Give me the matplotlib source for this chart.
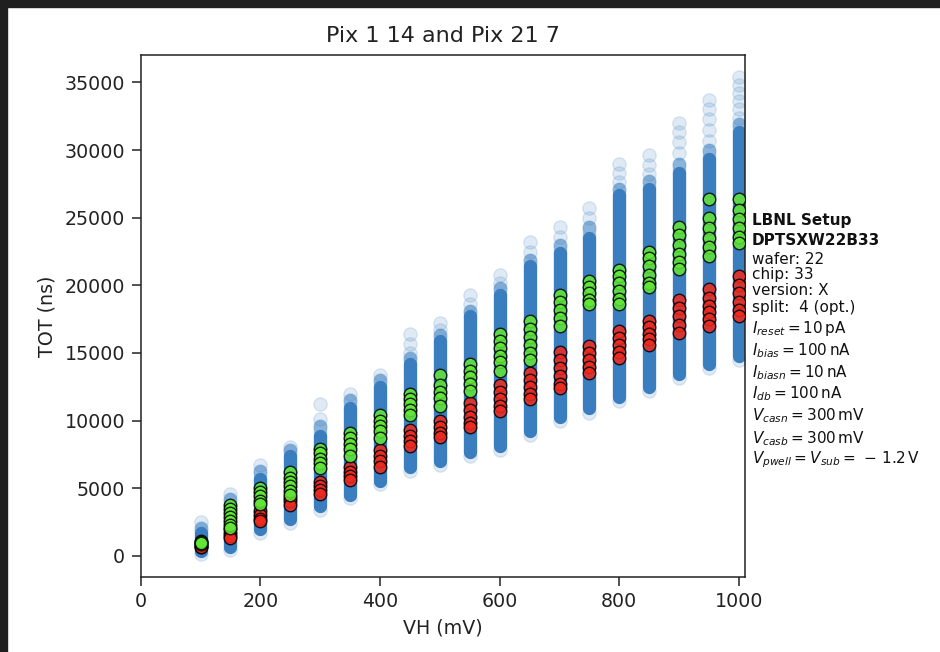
import matplotlib
matplotlib.use("Agg")
import matplotlib.pyplot as plt
from matplotlib.patches import Rectangle

# ---------------- data ----------------
vh = [100, 150, 200, 250, 300, 350, 400, 450, 500, 550,
      600, 650, 700, 750, 800, 850, 900, 950, 1000]

# dense (solid) part of the blue TOT distribution per VH
blue_core_lo = [400, 700, 2000, 2750, 3700, 4500, 5550, 6600, 7000, 7700,
                8150, 9250, 10300, 10900, 11750, 12500, 13450, 14200, 14800]
blue_core_hi = [1700, 3700, 5700, 7400, 8900, 10900, 12500, 14200, 15900, 17700,
                19300, 21400, 22400, 23500, 26700, 27100, 28300, 29300, 31300]
# sparse (faint) upper tail of the blue distribution per VH
blue_tail_hi = [
    [2500, 2100],
    [4600, 4200],
    [6700, 6300],
    [8050, 7800],
    [11200, 10100, 9600],
    [12000, 11500],
    [13400, 13000],
    [16400, 15700, 15000, 14600],
    [17200, 16700, 16300],
    [19300, 18600, 18100],
    [20800, 20200, 19800],
    [23200, 22500, 21900],
    [24300, 23600, 23000],
    [25700, 25000, 24300],
    [29000, 28300, 27600, 27100],
    [29600, 28900, 28200, 27700],
    [32000, 31300, 30600, 29800, 29000],
    [33700, 33000, 32300, 31500, 30700, 30000],
    [35400, 34800, 34200, 33600, 33000, 32400, 31900],
]
# faint lower tail
blue_tail_lo = [150, 450, 1700, 2450, 3400, 4250, 5300, 6300, 6750, 7400,
                7850, 8950, 10000, 10600, 11450, 12200, 13150, 13900, 14500]

green_vals = [
    [900, 1000, 1100, 1050, 950],
    [3800, 3500, 3200, 2900, 2600, 2300, 2050],
    [5050, 4700, 4400, 4100, 3850],
    [6200, 5800, 5500, 5200, 4800, 4500],
    [7900, 7600, 7200, 6900, 6500],
    [9100, 8700, 8300, 7900, 7400],
    [10400, 10000, 9600, 9200, 8700],
    [12000, 11600, 11200, 10800, 10400],
    [13400, 12600, 12100, 11700, 11100],
    [14200, 13700, 13200, 12700, 12200],
    [16400, 15900, 15400, 14800, 14300, 13700],
    [17400, 16800, 16200, 15600, 15000, 14500],
    [19300, 18800, 18200, 17600, 17000],
    [20300, 19900, 19400, 18900, 18600],
    [21100, 20700, 20200, 19600, 19000, 18600],
    [22500, 22000, 21400, 20800, 20200, 19900],
    [24300, 23700, 23000, 22300, 21700, 21200],
    [26400, 25000, 24200, 23500, 22800, 22200],
    [26400, 25600, 24900, 24200, 23600, 23100],
]
red_vals = [
    [650, 750, 800, 700],
    [2000, 1700, 1500, 1300],
    [3300, 3000, 2750, 2550],
    [4300, 4050, 3800],
    [5500, 5200, 4900, 4600],
    [6600, 6200, 5900, 5600],
    [7800, 7400, 7000, 6600],
    [9300, 8900, 8500, 8100],
    [10000, 9500, 9100, 8800],
    [11300, 10800, 10300, 9800, 9500],
    [12600, 12100, 11600, 11100, 10700],
    [13500, 13000, 12500, 12000, 11600],
    [15100, 14500, 13900, 13300, 12700, 12400],
    [15500, 15000, 14500, 14000, 13500],
    [16600, 16100, 15600, 15100, 14600],
    [17400, 16900, 16400, 16000, 15600],
    [18900, 18300, 17700, 17100, 16500],
    [19700, 19100, 18500, 18000, 17500, 17000],
    [20700, 20000, 19400, 18800, 18200, 17700],
]

title = "Pix 1 14 and Pix 21 7"
xlabel = "VH (mV)"
ylabel = "TOT (ns)"
info_bold = ["LBNL Setup", "DPTSXW22B33"]
info_lines = ["wafer: 22", "chip: 33", "version: X", "split:  4 (opt.)",
              r"$I_{reset} = 10\,\mathrm{pA}$",
              r"$I_{bias} = 100\,\mathrm{nA}$",
              r"$I_{biasn} = 10\,\mathrm{nA}$",
              r"$I_{db} = 100\,\mathrm{nA}$",
              r"$V_{casn} = 300\,\mathrm{mV}$",
              r"$V_{casb} = 300\,\mathrm{mV}$",
              r"$V_{pwell} = V_{sub} =\,-\,1.2\,\mathrm{V}$"]

# ---------------- figure ----------------
W, H = 940, 652
fig = plt.figure(figsize=(W / 100, H / 100), dpi=100)
fig.patch.set_facecolor("white")
# dark screenshot frame (top and left)
fig.patches.append(Rectangle((0, (H - 7) / H), 1, 7 / H, transform=fig.transFigure,
                             color="#1f1f1f", zorder=-10))
fig.patches.append(Rectangle((0, 0), 7 / W, 1, transform=fig.transFigure,
                             color="#1f1f1f", zorder=-10))

ax = fig.add_axes([140.7 / W, 1 - 576.7 / H, (745 - 140.7) / W, (576.7 - 55) / H])

blue = "#3b7ec0"
lw_col = 9.6
for x, lo, hi, tails, tlo in zip(vh, blue_core_lo, blue_core_hi, blue_tail_hi, blue_tail_lo):
    ax.plot([x, x], [tails[-1], hi], color=blue, lw=lw_col, alpha=0.5,
            solid_capstyle="round", zorder=1)
    ax.plot([x, x], [lo, hi], color=blue, lw=lw_col, solid_capstyle="round", zorder=2)
    ax.scatter([x] * len(tails), tails, s=92, color=blue, alpha=0.16, lw=1, zorder=1)
    ax.scatter([x], [tlo], s=92, color=blue, alpha=0.16, lw=1, zorder=1)

for x, gv, rv in zip(vh, green_vals, red_vals):
    ax.scatter([x] * len(rv), rv, s=81, facecolor="#f02a1e", edgecolor="black",
               lw=1.0, alpha=0.85, zorder=3)
    ax.scatter([x] * len(gv), gv, s=81, facecolor="#62e836", edgecolor="black",
               lw=1.0, alpha=0.85, zorder=4)

ax.set_xlim(0, 1010)
ax.set_ylim(-1530, 37020)
ax.set_xticks([0, 200, 400, 600, 800, 1000])
ax.set_yticks([0, 5000, 10000, 15000, 20000, 25000, 30000, 35000])

fs = 13.7
ax.tick_params(labelsize=fs, length=6.5, width=1.1, pad=4.8, colors="#222222")
for sp in ax.spines.values():
    sp.set_linewidth(1.1)
    sp.set_color("#222222")
ax.set_title(title, fontsize=16, pad=9, color="#222222")
ax.set_xlabel(xlabel, fontsize=fs, labelpad=5, color="#222222")
ax.set_ylabel(ylabel, fontsize=fs, labelpad=6, color="#222222")

# info text on the right
x_txt = 752 / W
bold_y = [220, 240.7]
for s, yy in zip(info_bold, bold_y):
    fig.text(x_txt, 1 - yy / H, s, fontsize=11, fontweight="bold",
             va="center", ha="left", color="#111111")
line_y = [259.3, 275, 290.5, 307.3, 328.3, 350.7, 372.3, 393.3, 416, 438.7, 460]
for s, yy in zip(info_lines, line_y):
    fig.text(x_txt, 1 - yy / H, s, fontsize=11, va="center", ha="left", color="#111111")

fig.savefig("out.png", dpi=100)
